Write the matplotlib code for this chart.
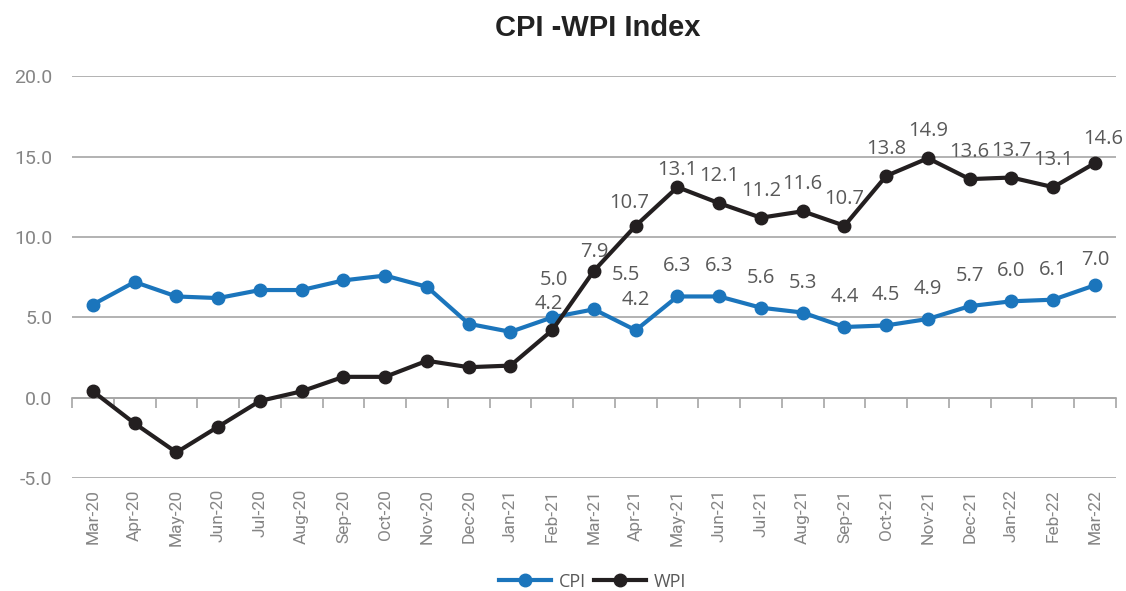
import numpy as np
import matplotlib.pyplot as plt

months = ["Mar-20", "Apr-20", "May-20", "Jun-20", "Jul-20", "Aug-20", "Sep-20", "Oct-20",
          "Nov-20", "Dec-20", "Jan-21", "Feb-21", "Mar-21", "Apr-21", "May-21", "Jun-21",
          "Jul-21", "Aug-21", "Sep-21", "Oct-21", "Nov-21", "Dec-21", "Jan-22", "Feb-22", "Mar-22"]
cpi = [5.8, 7.2, 6.3, 6.2, 6.7, 6.7, 7.3, 7.6, 6.9, 4.6, 4.1, 5.0, 5.5, 4.2, 6.3, 6.3,
       5.6, 5.3, 4.4, 4.5, 4.9, 5.7, 6.0, 6.1, 7.0]
wpi = [0.4, -1.6, -3.4, -1.8, -0.2, 0.4, 1.3, 1.3, 2.3, 1.9, 2.0, 4.2, 7.9, 10.7, 13.1, 12.1,
       11.2, 11.6, 10.7, 13.8, 14.9, 13.6, 13.7, 13.1, 14.6]
label_from = 11  # data labels start at Feb-21

# label offsets in pixels (dx, dy), default above the point; a few were nudged by hand
cpi_off = {11: (2, 37), 12: (32, 34), 24: (0, 25)}
wpi_off = {11: (-3, 26), 12: (0, 19), 13: (-7, 23), 14: (0, 17), 24: (8, 24)}

blue = "#1b75bc"
black = "#231f20"
grey = "#858585"
lab = "#595959"

fig = plt.figure(figsize=(11.26, 5.91), dpi=100)
ax = fig.add_axes([0.064, 0.191, 0.927, 0.680])

x = np.arange(len(months))
ax.plot(x, cpi, color=blue, lw=3, marker='o', ms=9, label="CPI", zorder=3)
ax.plot(x, wpi, color=black, lw=3, marker='o', ms=9, label="WPI", zorder=4)

for i in range(label_from, len(months)):
    dx, dy = cpi_off.get(i, (0, 30))
    ax.annotate("{:.1f}".format(cpi[i]), (x[i], cpi[i]), xytext=(dx * 0.72, dy * 0.72),
                textcoords='offset points', ha='center', va='center', fontsize=14.5,
                color=lab, family="Open Sans")
    dx, dy = wpi_off.get(i, (0, 27))
    ax.annotate("{:.1f}".format(wpi[i]), (x[i], wpi[i]), xytext=(dx * 0.72, dy * 0.72),
                textcoords='offset points', ha='center', va='center', fontsize=14.5,
                color=lab, family="Open Sans")

ax.set_xlim(-0.5, len(months) - 0.5)
ax.set_ylim(-5, 20)
yt = [-5, 0, 5, 10, 15, 20]
ax.set_yticks(yt)
ax.set_yticklabels(["{:.1f}".format(v) for v in yt],
                   fontsize=14, color=grey, family="Roboto")
ax.grid(axis='y', color="#a6a6a6", lw=1.2)
ax.set_axisbelow(True)
ax.tick_params(axis='y', length=0, pad=14)

ax.set_xticks(x)
ax.set_xticklabels(months, rotation=90, fontsize=12.5, color=grey, family="Roboto")
ax.tick_params(axis='x', length=0, pad=8)

for s in ax.spines.values():
    s.set_visible(False)

# category axis crossing at zero, tick marks between categories
sec = ax.secondary_xaxis(0.2)
sec.set_xticks(np.arange(-0.5, len(months), 1.0))
sec.set_xticklabels([])
sec.tick_params(axis='x', direction='out', length=7, width=1.2, color="#a6a6a6")
sec.spines['bottom'].set_color("#a6a6a6")
sec.spines['bottom'].set_linewidth(1.2)

fig.text(0.531, 0.953, "CPI -WPI Index", ha='center', va='center', fontsize=21,
         fontweight='bold', family="Liberation Sans", color="#222222")

fig.legend(loc='center', bbox_to_anchor=(0.526, 0.016), ncol=2, frameon=False,
           prop={'family': 'Open Sans', 'size': 13}, labelcolor=lab,
           handlelength=2.9, handletextpad=0.4, columnspacing=0.45)

fig.savefig("out.png", dpi=100)
